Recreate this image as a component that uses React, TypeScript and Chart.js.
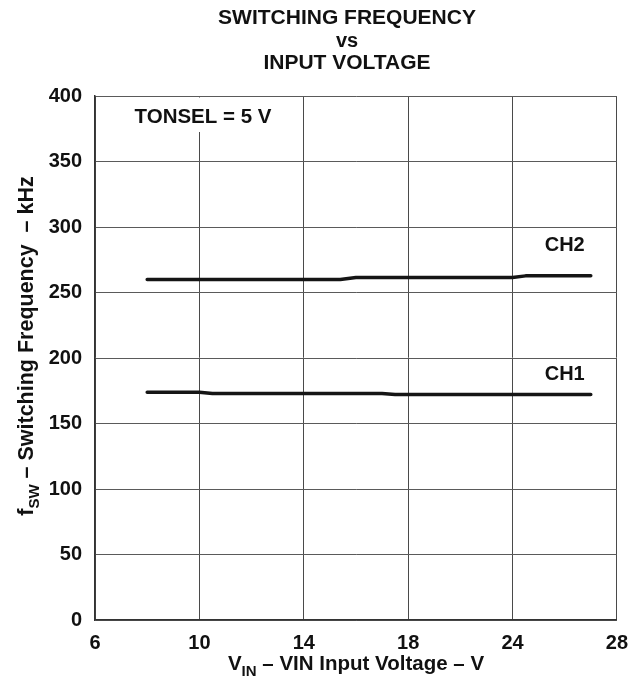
import React, { useEffect, useRef } from "react";
import { Chart, registerables } from "chart.js";

Chart.register(...registerables);

const voltageTicks = [6, 10, 14, 18, 24, 28];
const freqTicks = [0, 50, 100, 150, 200, 250, 300, 350, 400];

const ch2Voltage = [8, 15.4, 16, 24, 24.5, 27];
const ch2Freq = [260, 260, 261.5, 261.5, 262.7, 262.7];

const ch1Voltage = [8, 10, 10.5, 17, 17.5, 27];
const ch1Freq = [173.8, 173.8, 172.9, 172.9, 172.2, 172.2];

const seriesLabels = [
  { text: "CH2", v: 26, f: 286 },
  { text: "CH1", v: 26, f: 187.6 },
];

const titleLines = ["SWITCHING FREQUENCY", "vs", "INPUT VOLTAGE"];
const annotationText = "TONSEL = 5 V";

const FONT = '"Liberation Sans", Arial, Helvetica, sans-serif';
const INK = "#111111";

// piecewise mapping: the axis places the tick voltages evenly
function voltToPos(v: number): number {
  for (let i = 0; i < voltageTicks.length - 1; i++) {
    const a = voltageTicks[i];
    const b = voltageTicks[i + 1];
    if (v >= a && v <= b) return i + (v - a) / (b - a);
  }
  return v < voltageTicks[0] ? 0 : voltageTicks.length - 1;
}

type Part = { text: string; sub?: boolean };

function drawRich(ctx: CanvasRenderingContext2D, parts: Part[], cx: number, baseline: number, size: number) {
  const subSize = Math.round(size * 0.72);
  let total = 0;
  const widths = parts.map((p) => {
    ctx.font = `bold ${p.sub ? subSize : size}px ${FONT}`;
    const w = ctx.measureText(p.text).width;
    total += w;
    return w;
  });
  let x = cx - total / 2;
  ctx.textAlign = "left";
  ctx.textBaseline = "alphabetic";
  parts.forEach((p, i) => {
    ctx.font = `bold ${p.sub ? subSize : size}px ${FONT}`;
    ctx.fillText(p.text, x, baseline + (p.sub ? size * 0.28 : 0));
    x += widths[i];
  });
}

const decorPlugin = {
  id: "decor",
  beforeDatasetsDraw(chart: any) {
    const { ctx, chartArea } = chart;
    ctx.save();
    ctx.fillStyle = "#ffffff";
    ctx.fillRect(chartArea.left + 1.5, chartArea.top + 1.5, 302 - chartArea.left - 1.5, 132 - chartArea.top - 1.5);
    ctx.fillStyle = INK;
    ctx.font = `bold 20.5px ${FONT}`;
    ctx.textAlign = "center";
    ctx.textBaseline = "middle";
    ctx.fillText(annotationText, 203, 117);
    ctx.restore();
  },
  afterDraw(chart: any) {
    const { ctx, scales } = chart;
    ctx.save();
    ctx.fillStyle = INK;
    // title
    ctx.textAlign = "center";
    ctx.textBaseline = "alphabetic";
    ctx.font = `bold 21px ${FONT}`;
    ctx.fillText(titleLines[0], 347, 23.5);
    ctx.font = `bold 20px ${FONT}`;
    ctx.fillText(titleLines[1], 347, 46.5);
    ctx.font = `bold 21px ${FONT}`;
    ctx.fillText(titleLines[2], 347, 68.5);

    // series labels
    ctx.font = `bold 20px ${FONT}`;
    ctx.textAlign = "center";
    ctx.textBaseline = "middle";
    seriesLabels.forEach((l) => {
      ctx.fillText(l.text, scales.x.getPixelForValue(voltToPos(l.v)), scales.y.getPixelForValue(l.f));
    });

    // x axis title
    drawRich(
      ctx,
      [{ text: "V" }, { text: "IN", sub: true }, { text: " – VIN Input Voltage – V" }],
      356,
      670,
      20.5
    );

    // y axis title
    ctx.save();
    ctx.translate(33, 346);
    ctx.rotate(-Math.PI / 2);
    drawRich(
      ctx,
      [{ text: "f" }, { text: "SW", sub: true }, { text: " – Switching Frequency  – kHz" }],
      0,
      0,
      21.5
    );
    ctx.restore();
    ctx.restore();
  },
};

export default function App() {
  const ref = useRef<HTMLCanvasElement | null>(null);

  useEffect(() => {
    document.body.style.margin = "0";
    const canvas = ref.current;
    if (!canvas) return;
    const lineStyle = {
      borderColor: "#151515",
      borderWidth: 3.5,
      pointRadius: 0,
      fill: false,
      tension: 0,
      borderCapStyle: "round" as const,
      borderJoinStyle: "round" as const,
    };
    const chart = new Chart(canvas, {
      type: "line",
      data: {
        datasets: [
          {
            label: "CH2",
            data: ch2Voltage.map((v, i) => ({ x: voltToPos(v), y: ch2Freq[i] })),
            ...lineStyle,
          },
          {
            label: "CH1",
            data: ch1Voltage.map((v, i) => ({ x: voltToPos(v), y: ch1Freq[i] })),
            ...lineStyle,
          },
        ],
      },
      options: {
        responsive: false,
        animation: false,
        events: [],
        layout: { padding: { top: 96, right: 22, left: 0, bottom: 0 } },
        plugins: {
          legend: { display: false },
          title: { display: false },
          tooltip: { enabled: false },
        },
        scales: {
          x: {
            type: "linear",
            min: 0,
            max: voltageTicks.length - 1,
            afterFit: (s: any) => {
              s.height = 57;
            },
            afterBuildTicks: (s: any) => {
              s.ticks = voltageTicks.map((_, i) => ({ value: i }));
            },
            ticks: {
              padding: 11,
              color: INK,
              font: { family: FONT, size: 20, weight: "bold" },
              maxRotation: 0,
              autoSkip: false,
              callback: (v: any) => String(voltageTicks[Math.round(Number(v))]),
            },
            grid: { color: "#4a4a4a", lineWidth: 1, drawTicks: false },
            border: { color: "#333333", width: 1.5 },
          },
          y: {
            type: "linear",
            min: freqTicks[0],
            max: freqTicks[freqTicks.length - 1],
            afterFit: (s: any) => {
              s.width = 95;
            },
            afterBuildTicks: (s: any) => {
              s.ticks = freqTicks.map((v) => ({ value: v }));
            },
            ticks: {
              padding: 13,
              color: INK,
              font: { family: FONT, size: 20, weight: "bold" },
            },
            grid: { color: "#5a5a5a", lineWidth: 1, drawTicks: false },
            border: { color: "#333333", width: 1.5 },
          },
        },
      },
      plugins: [decorPlugin],
    });
    return () => chart.destroy();
  }, []);

  return (
    <canvas
      ref={ref}
      width={639}
      height={677}
      style={{ display: "block", position: "absolute", left: 0, top: 0 }}
    />
  );
}
